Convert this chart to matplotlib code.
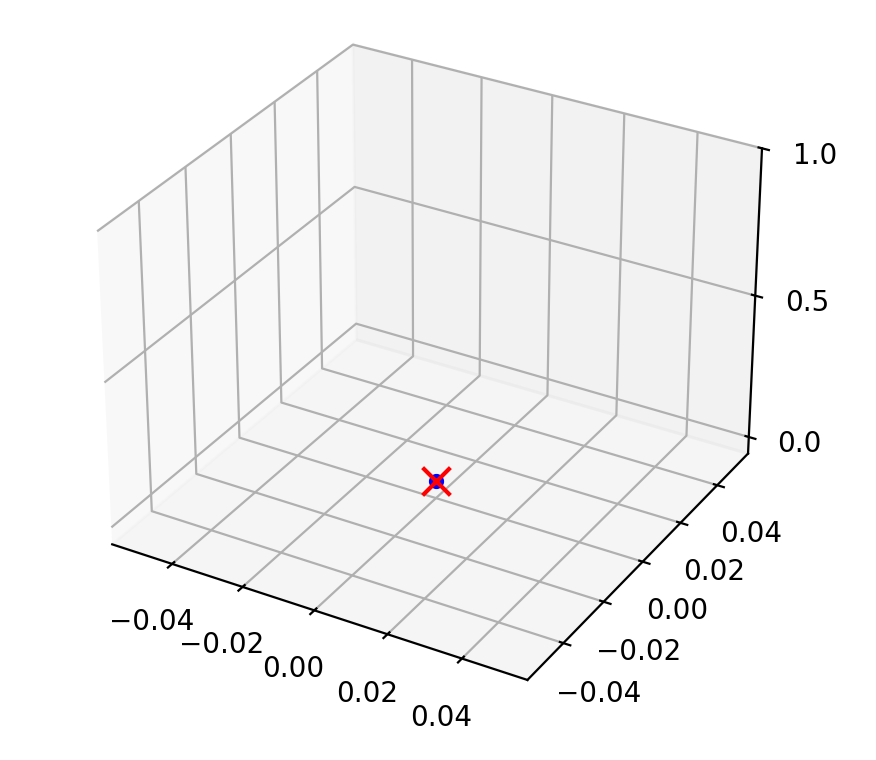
import matplotlib
matplotlib.use("Agg")
import matplotlib.pyplot as plt

x_pts = [0.0]
y_pts = [0.0]
z_pts = [0.0]
x_cross = [0.0]
y_cross = [0.0]
z_cross = [0.0]
z_limits = (-0.06, 1.0)
z_ticks = [0.0, 0.5, 1.0]

fig = plt.figure(figsize=(4.38, 3.8), dpi=200)
ax = fig.add_subplot(111, projection="3d")
ax.set_position([(426 - 496) / 876, (760 - 357 - 369.6) / 760, 992 / 876, 739.2 / 760])
ax.scatter(x_pts, y_pts, z_pts, c="blue", s=20)
ax.scatter(x_cross, y_cross, z_cross, c="red", marker="x", s=100)
ax.set_zlim(*z_limits)
ax.set_zticks(z_ticks)
fig.savefig("out.png", dpi=200)
